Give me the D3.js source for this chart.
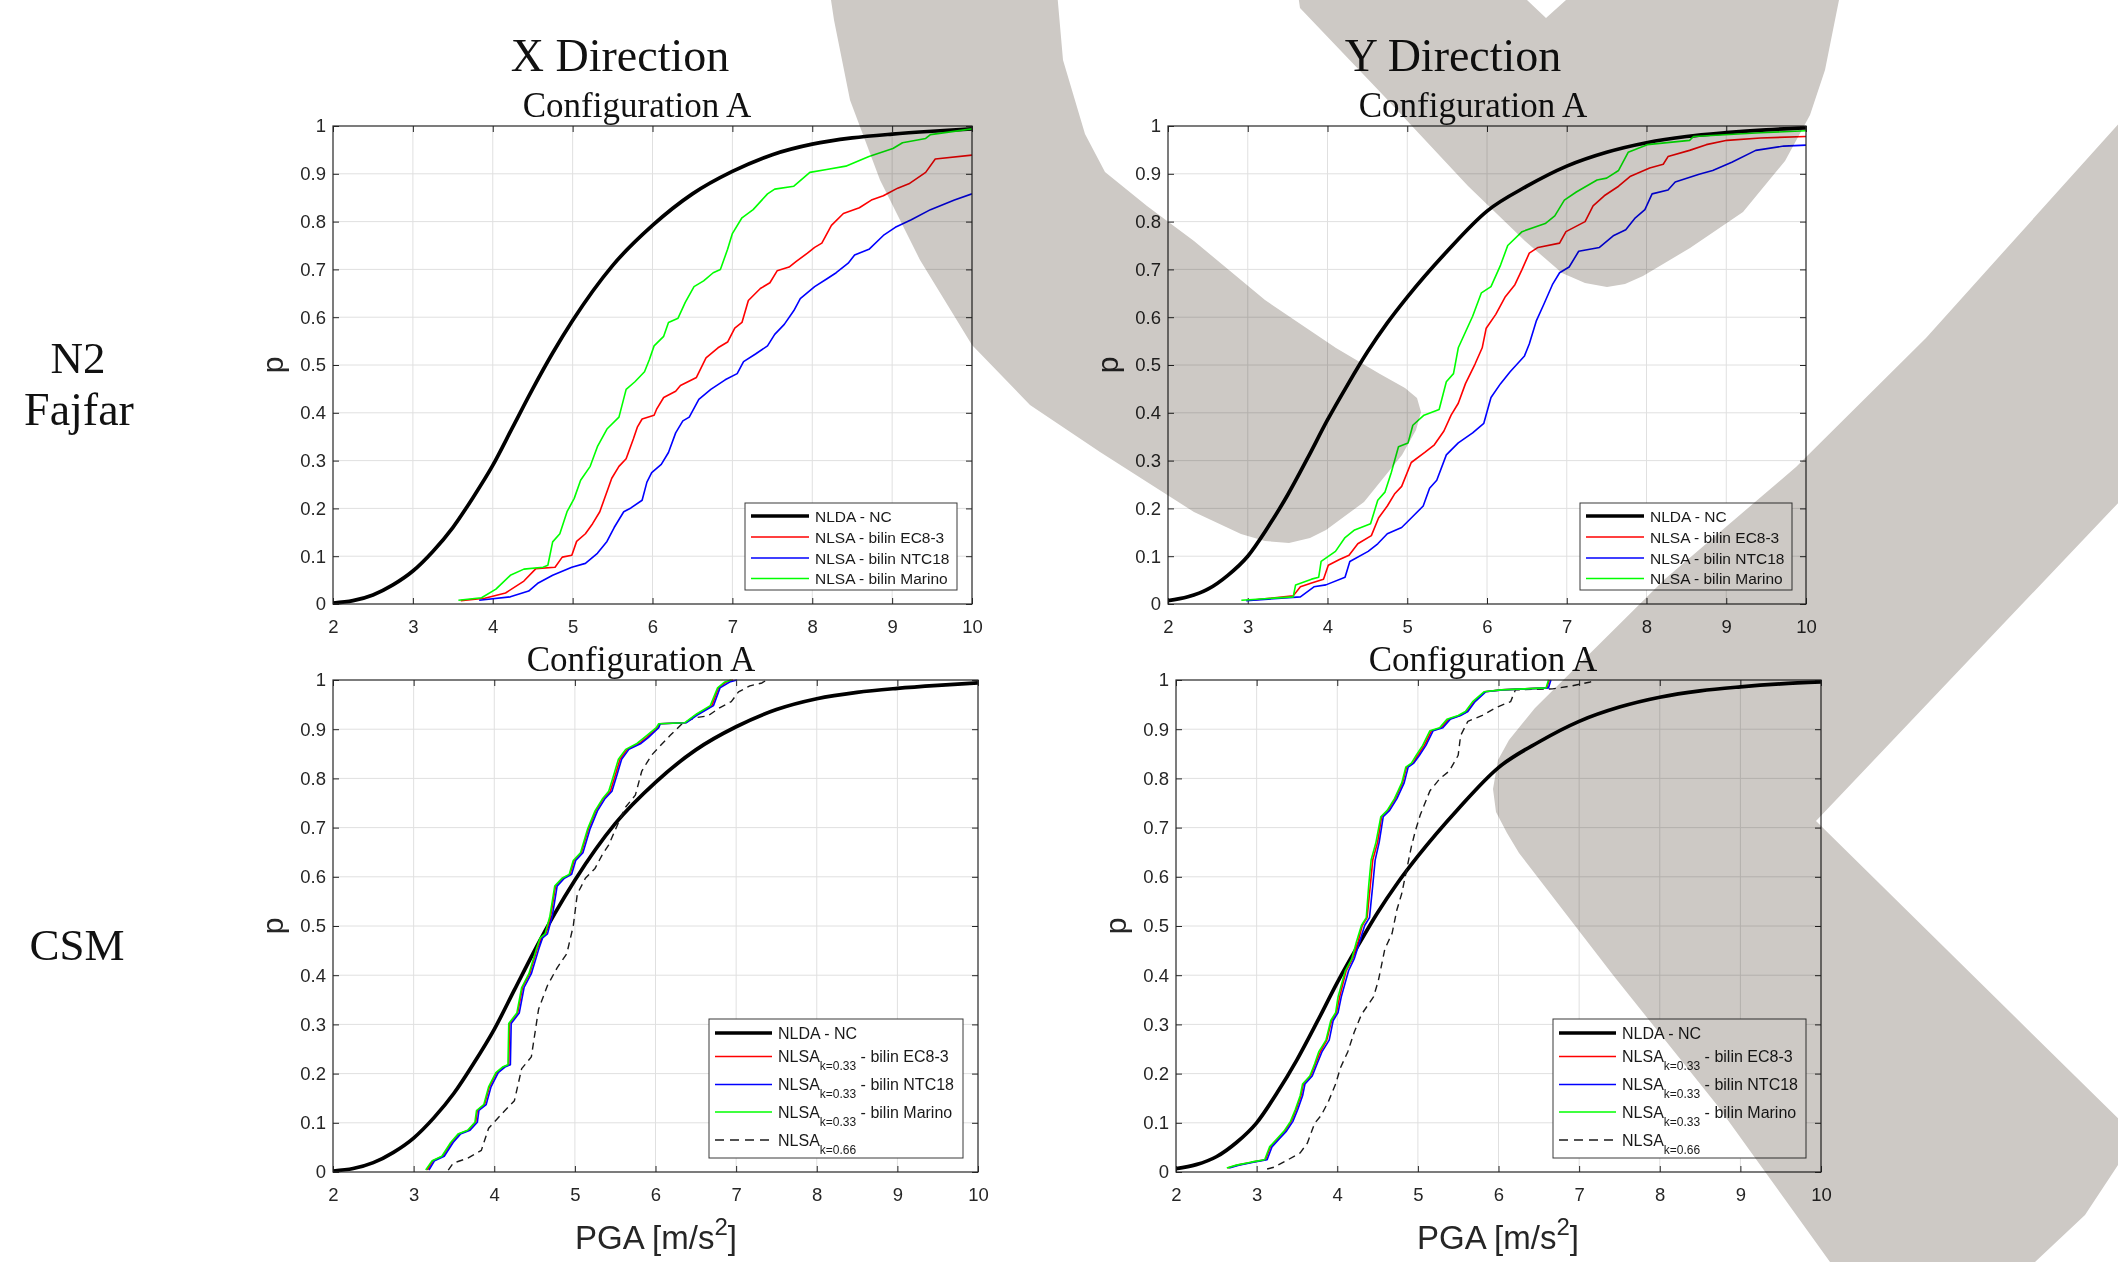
<!DOCTYPE html>
<html>
<head>
<meta charset="utf-8">
<script src="https://cdn.jsdelivr.net/npm/d3@7"></script>
<style>
  body { margin: 0; background: #fff; }
  svg { display: block; }
</style>
</head>
<body>
<div id="chart"></div>
<script>
const W = 2118, H = 1262;

// --- values: [PGA, p] ---
const xTicks = [2, 3, 4, 5, 6, 7, 8, 9, 10];
const yTicks = [0, 0.1, 0.2, 0.3, 0.4, 0.5, 0.6, 0.7, 0.8, 0.9, 1];
const yTickLabels = ["0", "0.1", "0.2", "0.3", "0.4", "0.5", "0.6", "0.7", "0.8", "0.9", "1"];

const nldaX = [[2,0.002],[2.25,0.007],[2.5,0.019],[2.75,0.040],[3,0.069],[3.25,0.110],[3.5,0.160],[3.75,0.222],
  [4,0.290],[4.25,0.370],[4.5,0.450],[4.75,0.525],[5,0.593],[5.5,0.708],[6,0.792],[6.5,0.858],[7,0.905],
  [7.5,0.940],[8,0.962],[8.5,0.975],[9,0.983],[9.5,0.989],[10,0.994]];

const nldaY = [[2,0.007],[2.25,0.015],[2.5,0.031],[2.75,0.060],[3,0.100],[3.25,0.160],[3.5,0.228],[3.75,0.305],
  [4,0.385],[4.25,0.458],[4.5,0.527],[4.75,0.588],[5,0.642],[5.5,0.738],[6,0.822],[6.5,0.874],[7,0.916],
  [7.5,0.945],[8,0.965],[8.5,0.978],[9,0.986],[9.5,0.992],[10,0.996]];

// N2 Fajfar, X direction
const n2xEC8 = [[3.60,0.007],[3.9,0.012],[4.16,0.023],[4.39,0.048],[4.54,0.074],[4.78,0.077],[4.87,0.098],[4.99,0.102],
  [5.05,0.131],[5.16,0.147],[5.25,0.168],[5.34,0.193],[5.49,0.263],[5.58,0.288],[5.67,0.304],[5.76,0.345],[5.81,0.37],
  [5.87,0.387],[6.02,0.395],[6.05,0.407],[6.14,0.432],[6.29,0.445],[6.35,0.457],[6.55,0.474],[6.67,0.515],[6.82,0.536],
  [6.94,0.548],[7.03,0.577],[7.12,0.589],[7.20,0.635],[7.35,0.66],[7.47,0.672],[7.56,0.697],[7.71,0.705],[7.80,0.717],
  [7.94,0.734],[8.03,0.746],[8.12,0.755],[8.24,0.792],[8.39,0.817],[8.59,0.829],[8.74,0.845],[8.89,0.854],[9.07,0.87],
  [9.21,0.879],[9.42,0.903],[9.54,0.931],[10,0.939]];
const n2xNTC = [[3.83,0.008],[4.22,0.015],[4.45,0.027],[4.57,0.044],[4.75,0.06],[4.99,0.077],[5.16,0.085],[5.31,0.106],
  [5.43,0.131],[5.52,0.16],[5.64,0.193],[5.73,0.201],[5.87,0.217],[5.93,0.255],[5.99,0.275],[6.11,0.292],[6.20,0.317],
  [6.29,0.358],[6.38,0.383],[6.46,0.391],[6.58,0.428],[6.73,0.449],[6.91,0.469],[7.06,0.482],[7.14,0.507],[7.29,0.523],
  [7.44,0.54],[7.53,0.564],[7.65,0.585],[7.77,0.614],[7.85,0.639],[8.03,0.664],[8.18,0.68],[8.30,0.693],[8.45,0.713],
  [8.53,0.73],[8.71,0.742],[8.89,0.771],[9.04,0.788],[9.24,0.804],[9.48,0.825],[9.78,0.845],[10,0.858]];
const n2xMarino = [[3.57,0.008],[3.86,0.013],[4.04,0.031],[4.22,0.06],[4.39,0.073],[4.63,0.077],[4.69,0.081],[4.75,0.13],
  [4.84,0.147],[4.93,0.193],[5.02,0.221],[5.10,0.259],[5.22,0.288],[5.31,0.329],[5.43,0.366],[5.58,0.391],[5.67,0.449],
  [5.78,0.465],[5.90,0.486],[5.96,0.511],[6.02,0.54],[6.14,0.56],[6.20,0.589],[6.32,0.598],[6.41,0.631],[6.52,0.664],
  [6.64,0.676],[6.76,0.693],[6.85,0.70],[6.94,0.742],[7.00,0.775],[7.12,0.808],[7.26,0.825],[7.44,0.858],[7.53,0.868],
  [7.77,0.874],[7.97,0.903],[8.18,0.909],[8.42,0.916],[8.71,0.936],[9.01,0.953],[9.13,0.965],[9.42,0.974],[9.48,0.982],
  [10,0.994]];

// N2 Fajfar, Y direction
const n2yEC8 = [[3.04,0.008],[3.57,0.017],[3.66,0.036],[3.80,0.044],[3.95,0.052],[4.01,0.081],[4.15,0.093],[4.27,0.102],
  [4.38,0.126],[4.55,0.143],[4.64,0.18],[4.75,0.205],[4.84,0.23],[4.93,0.246],[5.05,0.296],[5.22,0.317],[5.34,0.333],
  [5.46,0.362],[5.55,0.395],[5.64,0.42],[5.73,0.461],[5.85,0.502],[5.94,0.536],[5.99,0.577],[6.11,0.606],[6.23,0.643],
  [6.35,0.668],[6.44,0.70],[6.53,0.734],[6.64,0.746],[6.91,0.755],[6.99,0.779],[7.23,0.80],[7.33,0.833],[7.47,0.854],
  [7.65,0.874],[7.80,0.895],[8.04,0.912],[8.21,0.92],[8.27,0.936],[8.54,0.949],[8.75,0.961],[9.01,0.97],[9.43,0.975],
  [10,0.978]];
const n2yNTC = [[2.98,0.007],[3.66,0.015],[3.83,0.036],[3.98,0.04],[4.22,0.056],[4.28,0.089],[4.51,0.11],[4.63,0.126],
  [4.75,0.147],[4.93,0.16],[5.05,0.18],[5.20,0.205],[5.28,0.242],[5.37,0.259],[5.49,0.312],[5.64,0.337],[5.82,0.358],
  [5.96,0.378],[6.05,0.432],[6.17,0.461],[6.29,0.486],[6.47,0.519],[6.53,0.544],[6.62,0.593],[6.71,0.626],[6.82,0.668],
  [6.91,0.693],[7.03,0.705],[7.15,0.738],[7.41,0.746],[7.59,0.771],[7.74,0.783],[7.86,0.808],[7.98,0.825],[8.07,0.858],
  [8.27,0.866],[8.36,0.883],[8.66,0.899],[8.83,0.907],[9.07,0.924],[9.37,0.949],[9.72,0.958],[10,0.96]];
const n2yMarino = [[2.92,0.008],[3.57,0.015],[3.60,0.04],[3.80,0.052],[3.89,0.056],[3.92,0.089],[4.10,0.11],[4.22,0.139],
  [4.34,0.155],[4.54,0.168],[4.63,0.217],[4.72,0.234],[4.80,0.275],[4.89,0.329],[5.01,0.337],[5.07,0.374],[5.21,0.395],
  [5.40,0.407],[5.49,0.465],[5.58,0.482],[5.64,0.536],[5.73,0.569],[5.82,0.602],[5.93,0.651],[6.05,0.664],[6.17,0.709],
  [6.26,0.75],[6.44,0.779],[6.73,0.796],[6.85,0.812],[6.97,0.845],[7.12,0.862],[7.38,0.887],[7.50,0.891],[7.65,0.907],
  [7.77,0.945],[8.01,0.961],[8.54,0.97],[8.59,0.978],[9.43,0.986],[10,0.99]];

// CSM, X direction
const csmxEC8 = [[3.17,0.004],[3.24,0.023],[3.36,0.032],[3.47,0.06],[3.56,0.077],[3.68,0.085],[3.77,0.101],[3.79,0.125],
  [3.88,0.137],[3.94,0.173],[4.03,0.202],[4.12,0.214],[4.18,0.218],[4.19,0.302],[4.29,0.323],[4.35,0.375],[4.44,0.403],
  [4.53,0.452],[4.58,0.476],[4.64,0.484],[4.70,0.52],[4.76,0.581],[4.85,0.597],[4.94,0.605],[4.99,0.633],[5.08,0.649],
  [5.17,0.698],[5.26,0.734],[5.35,0.758],[5.44,0.774],[5.50,0.806],[5.56,0.839],[5.65,0.859],[5.80,0.871],[5.89,0.883],
  [6.03,0.903],[6.05,0.911],[6.37,0.913],[6.52,0.931],[6.70,0.948],[6.78,0.984],[6.88,0.996],[6.96,1.0]];
const csmxNTC = [[3.19,0.004],[3.26,0.023],[3.38,0.032],[3.49,0.06],[3.58,0.077],[3.70,0.085],[3.79,0.101],[3.81,0.125],
  [3.90,0.137],[3.96,0.173],[4.05,0.202],[4.14,0.214],[4.20,0.218],[4.21,0.302],[4.31,0.323],[4.37,0.375],[4.46,0.403],
  [4.55,0.452],[4.60,0.476],[4.66,0.484],[4.72,0.52],[4.78,0.581],[4.87,0.597],[4.96,0.605],[5.01,0.633],[5.10,0.649],
  [5.19,0.698],[5.28,0.734],[5.37,0.758],[5.46,0.774],[5.52,0.806],[5.58,0.839],[5.67,0.859],[5.82,0.871],[5.91,0.883],
  [6.04,0.903],[6.06,0.911],[6.38,0.913],[6.54,0.931],[6.72,0.948],[6.80,0.984],[6.92,0.996],[7.01,1.0]];
const csmxMarino = [[3.15,0.004],[3.23,0.023],[3.35,0.032],[3.46,0.06],[3.55,0.077],[3.67,0.085],[3.76,0.101],[3.78,0.125],
  [3.87,0.137],[3.93,0.173],[4.02,0.202],[4.11,0.214],[4.17,0.218],[4.18,0.302],[4.28,0.323],[4.34,0.375],[4.43,0.403],
  [4.52,0.452],[4.57,0.476],[4.63,0.484],[4.69,0.52],[4.75,0.581],[4.84,0.597],[4.93,0.605],[4.98,0.633],[5.07,0.649],
  [5.16,0.698],[5.25,0.734],[5.34,0.758],[5.42,0.774],[5.48,0.806],[5.54,0.839],[5.63,0.859],[5.77,0.871],[5.86,0.883],
  [6.01,0.903],[6.04,0.911],[6.36,0.913],[6.51,0.931],[6.68,0.948],[6.77,0.984],[6.86,0.996],[6.94,1.0]];
const csmxK066 = [[3.43,0.004],[3.49,0.018],[3.67,0.028],[3.84,0.044],[3.93,0.089],[4.11,0.121],[4.25,0.145],[4.34,0.21],
  [4.46,0.234],[4.55,0.331],[4.66,0.379],[4.78,0.415],[4.90,0.444],[4.98,0.50],[5.03,0.565],[5.13,0.597],[5.25,0.617],
  [5.34,0.645],[5.42,0.665],[5.54,0.71],[5.63,0.742],[5.75,0.766],[5.83,0.815],[5.95,0.847],[6.04,0.863],[6.18,0.887],
  [6.33,0.911],[6.48,0.923],[6.65,0.927],[6.80,0.944],[6.94,0.956],[7.03,0.976],[7.17,0.988],[7.32,0.994],[7.38,1.0]];

// CSM, Y direction
const csmyEC8 = [[2.64,0.008],[2.76,0.014],[2.94,0.02],[3.11,0.025],[3.17,0.051],[3.26,0.067],[3.35,0.083],[3.43,0.103],
  [3.49,0.127],[3.55,0.155],[3.58,0.179],[3.67,0.195],[3.73,0.22],[3.79,0.244],[3.87,0.268],[3.93,0.308],[3.99,0.324],
  [4.03,0.356],[4.11,0.409],[4.19,0.433],[4.26,0.469],[4.31,0.501],[4.37,0.517],[4.41,0.582],[4.44,0.634],[4.50,0.67],
  [4.55,0.722],[4.63,0.735],[4.72,0.759],[4.81,0.791],[4.86,0.823],[4.94,0.831],[5.00,0.847],[5.08,0.867],[5.17,0.897],
  [5.29,0.903],[5.38,0.92],[5.52,0.928],[5.61,0.936],[5.70,0.956],[5.83,0.976],[6.04,0.98],[6.33,0.982],[6.60,0.984],
  [6.63,1.0]];
const csmyNTC = [[2.66,0.008],[2.78,0.014],[2.96,0.02],[3.13,0.025],[3.19,0.051],[3.28,0.067],[3.37,0.083],[3.45,0.103],
  [3.51,0.127],[3.57,0.155],[3.60,0.179],[3.69,0.195],[3.75,0.22],[3.81,0.244],[3.90,0.268],[3.95,0.308],[4.01,0.324],
  [4.05,0.356],[4.14,0.409],[4.21,0.433],[4.28,0.469],[4.34,0.501],[4.40,0.517],[4.44,0.582],[4.47,0.634],[4.52,0.67],
  [4.57,0.722],[4.65,0.735],[4.74,0.759],[4.83,0.791],[4.88,0.823],[4.95,0.831],[5.02,0.847],[5.10,0.867],[5.19,0.897],
  [5.31,0.903],[5.40,0.92],[5.53,0.928],[5.62,0.936],[5.71,0.956],[5.84,0.976],[6.05,0.98],[6.34,0.982],[6.62,0.984],
  [6.65,1.0]];
const csmyMarino = [[2.63,0.008],[2.75,0.014],[2.93,0.02],[3.10,0.025],[3.16,0.051],[3.25,0.067],[3.34,0.083],[3.42,0.103],
  [3.48,0.127],[3.54,0.155],[3.57,0.179],[3.66,0.195],[3.72,0.22],[3.77,0.244],[3.86,0.268],[3.92,0.308],[3.98,0.324],
  [4.01,0.356],[4.10,0.409],[4.18,0.433],[4.24,0.469],[4.30,0.501],[4.36,0.517],[4.39,0.582],[4.42,0.634],[4.48,0.67],
  [4.54,0.722],[4.62,0.735],[4.71,0.759],[4.80,0.791],[4.85,0.823],[4.92,0.831],[4.98,0.847],[5.06,0.867],[5.15,0.897],
  [5.27,0.903],[5.36,0.92],[5.50,0.928],[5.59,0.936],[5.68,0.956],[5.82,0.976],[6.03,0.98],[6.32,0.982],[6.59,0.984],
  [6.62,1.0]];
const csmyK066 = [[3.13,0.006],[3.22,0.01],[3.39,0.025],[3.54,0.039],[3.63,0.059],[3.72,0.099],[3.80,0.115],[3.89,0.143],
  [3.98,0.179],[4.04,0.212],[4.13,0.244],[4.21,0.284],[4.30,0.32],[4.45,0.356],[4.51,0.389],[4.59,0.453],[4.68,0.485],
  [4.74,0.533],[4.80,0.566],[4.86,0.614],[4.92,0.662],[4.97,0.694],[5.03,0.726],[5.15,0.775],[5.27,0.799],[5.39,0.815],
  [5.50,0.847],[5.53,0.887],[5.62,0.916],[5.80,0.928],[5.97,0.944],[6.15,0.956],[6.21,0.98],[6.67,0.982],[6.91,0.988],
  [7.14,0.996],[7.20,1.0]];

const n2Legend = ["NLDA - NC", "NLSA - bilin EC8-3", "NLSA - bilin NTC18", "NLSA - bilin Marino"];
const csmLegendSub = ["", "k=0.33", "k=0.33", "k=0.33", "k=0.66"];
const csmLegendRest = ["NLDA - NC", " - bilin EC8-3", " - bilin NTC18", " - bilin Marino", ""];

// --- styles ---
const AX = "#262626";
const GRID = "#e0e0e0";
const SERIF = "'Liberation Serif', 'DejaVu Serif', serif";
const SANS = "'Liberation Sans', Arial, sans-serif";
const styles = {
  nlda:   { color: "#000000", width: 3.7, dash: null },
  ec8:    { color: "#ff0000", width: 1.6, dash: null },
  ntc:    { color: "#0000ff", width: 1.6, dash: null },
  marino: { color: "#00ff00", width: 1.6, dash: null },
  k066:   { color: "#1a1a1a", width: 1.4, dash: "7,5" }
};

const panels = [
  { left: 333, right: 972, top: 126, bottom: 604, title: [637, 117], xlabel: null,
    series: [["nlda", nldaX], ["ec8", n2xEC8], ["ntc", n2xNTC], ["marino", n2xMarino]],
    legend: { type: "n2", x: 745, y: 503, w: 212, h: 87 } },
  { left: 1168, right: 1806, top: 126, bottom: 604, title: [1473, 117], xlabel: null,
    series: [["nlda", nldaY], ["ec8", n2yEC8], ["ntc", n2yNTC], ["marino", n2yMarino]],
    legend: { type: "n2", x: 1580, y: 503, w: 212, h: 87 } },
  { left: 333, right: 978, top: 680, bottom: 1172, title: [641, 671], xlabel: [656, 1249],
    series: [["nlda", nldaX], ["k066", csmxK066], ["ec8", csmxEC8], ["ntc", csmxNTC], ["marino", csmxMarino]],
    legend: { type: "csm", x: 709, y: 1019, w: 254, h: 139 } },
  { left: 1176, right: 1821, top: 680, bottom: 1172, title: [1483, 671], xlabel: [1498, 1249],
    series: [["nlda", nldaY], ["k066", csmyK066], ["ec8", csmyEC8], ["ntc", csmyNTC], ["marino", csmyMarino]],
    legend: { type: "csm", x: 1553, y: 1019, w: 253, h: 139 } }
];

const svg = d3.select("#chart").append("svg")
  .attr("width", W)
  .attr("height", H)
  .style("background", "#fff");

// --- row and column headings ---
const headings = [
  ["X Direction", 620, 71, 46], ["Y Direction", 1453, 71, 46],
  ["N2", 78, 373, 45], ["Fajfar", 79, 425, 46], ["CSM", 77, 960, 45]
];
svg.selectAll(".heading")
  .data(headings)
  .enter()
  .append("text")
  .attr("class", "heading")
  .attr("x", d => d[1])
  .attr("y", d => d[2])
  .attr("text-anchor", "middle")
  .style("font", d => `${d[3]}px ${SERIF}`)
  .style("fill", "#111")
  .text(d => d[0]);

panels.forEach((p, i) => {
  const x = d3.scaleLinear().domain([2, 10]).range([p.left, p.right]);
  const y = d3.scaleLinear().domain([0, 1]).range([p.bottom, p.top]);
  const g = svg.append("g");

  // grid
  g.selectAll(".gx").data(xTicks.slice(1, -1)).enter().append("line")
    .attr("x1", d => x(d)).attr("x2", d => x(d))
    .attr("y1", p.top).attr("y2", p.bottom)
    .style("stroke", GRID).style("stroke-width", 1);
  g.selectAll(".gy").data(yTicks.slice(1, -1)).enter().append("line")
    .attr("x1", p.left).attr("x2", p.right)
    .attr("y1", d => y(d)).attr("y2", d => y(d))
    .style("stroke", GRID).style("stroke-width", 1);

  // axes, ticks pointing inwards on all four sides
  const styleAxis = sel => {
    sel.select(".domain").remove();
    sel.selectAll(".tick line").style("stroke", AX);
    sel.selectAll(".tick text").style("font", `18.5px ${SANS}`).style("fill", AX);
  };
  g.append("g").attr("transform", `translate(0,${p.bottom})`)
    .call(d3.axisBottom(x).tickValues(xTicks).tickSizeInner(-6).tickSizeOuter(0).tickPadding(16))
    .call(styleAxis);
  g.append("g").attr("transform", `translate(0,${p.top})`)
    .call(d3.axisTop(x).tickValues(xTicks).tickSizeInner(-6).tickSizeOuter(0).tickFormat(""))
    .call(styleAxis);
  g.append("g").attr("transform", `translate(${p.left},0)`)
    .call(d3.axisLeft(y).tickValues(yTicks).tickSizeInner(-6).tickSizeOuter(0).tickPadding(7)
      .tickFormat((d, k) => yTickLabels[k]))
    .call(styleAxis);
  g.append("g").attr("transform", `translate(${p.right},0)`)
    .call(d3.axisRight(y).tickValues(yTicks).tickSizeInner(-6).tickSizeOuter(0).tickFormat(""))
    .call(styleAxis);

  // clip + curves
  const clipId = "clip" + i;
  svg.append("defs").append("clipPath").attr("id", clipId)
    .append("rect").attr("x", p.left).attr("y", p.top - 2)
    .attr("width", p.right - p.left).attr("height", p.bottom - p.top + 4);

  const lineSmooth = d3.line().x(d => x(d[0])).y(d => y(d[1])).curve(d3.curveMonotoneX);
  const lineStep = d3.line().x(d => x(d[0])).y(d => y(d[1]));

  g.append("g").attr("clip-path", `url(#${clipId})`)
    .selectAll("path")
    .data(p.series)
    .enter()
    .append("path")
    .attr("d", d => d[0] === "nlda" ? lineSmooth(d[1]) : lineStep(d[1]))
    .style("fill", "none")
    .style("stroke", d => styles[d[0]].color)
    .style("stroke-width", d => styles[d[0]].width)
    .style("stroke-dasharray", d => styles[d[0]].dash)
    .style("stroke-linejoin", "round");

  // box
  g.append("rect")
    .attr("x", p.left).attr("y", p.top)
    .attr("width", p.right - p.left).attr("height", p.bottom - p.top)
    .style("fill", "none").style("stroke", AX).style("stroke-width", 1.2);

  // titles and labels
  g.append("text")
    .attr("x", p.title[0]).attr("y", p.title[1])
    .attr("text-anchor", "middle")
    .style("font", `35px ${SERIF}`).style("fill", "#111")
    .text("Configuration A");

  g.append("text")
    .attr("transform", `translate(${p.left - 50},${(p.top + p.bottom) / 2}) rotate(-90)`)
    .attr("text-anchor", "middle")
    .style("font", `30px ${SANS}`).style("fill", AX)
    .text("p");

  if (p.xlabel) {
    const t = g.append("text")
      .attr("x", p.xlabel[0]).attr("y", p.xlabel[1])
      .attr("text-anchor", "middle")
      .style("font", `33px ${SANS}`).style("fill", AX);
    t.append("tspan").text("PGA [m/s");
    t.append("tspan").attr("dy", -14).style("font-size", "24px").text("2");
    t.append("tspan").attr("dy", 14).text("]");
  }

  // legend
  const L = p.legend;
  const lg = g.append("g");
  lg.append("rect")
    .attr("x", L.x).attr("y", L.y).attr("width", L.w).attr("height", L.h)
    .style("fill", "#fff").style("stroke", "#3a3a3a").style("stroke-width", 1);

  const keys = L.type === "n2" ? ["nlda", "ec8", "ntc", "marino"] : ["nlda", "ec8", "ntc", "marino", "k066"];
  const rowY = L.type === "n2" ? [13, 34, 55, 75.5] : [14, 37.5, 65.5, 93, 121];
  const lineLen = L.type === "n2" ? 58 : 57;

  keys.forEach((k, j) => {
    const ry = L.y + rowY[j];
    lg.append("line")
      .attr("x1", L.x + 6).attr("x2", L.x + 6 + lineLen)
      .attr("y1", ry).attr("y2", ry)
      .style("stroke", styles[k].color)
      .style("stroke-width", styles[k].width)
      .style("stroke-dasharray", k === "k066" ? "9,6" : null);
    const t = lg.append("text")
      .attr("x", L.x + 6 + lineLen + 6).attr("y", ry + 5.5)
      .style("font", `${L.type === "n2" ? 15.5 : 16}px ${SANS}`).style("fill", "#1a1a1a");
    if (L.type === "n2") {
      t.text(n2Legend[j]);
    } else if (j === 0) {
      t.text(csmLegendRest[j]);
    } else {
      t.append("tspan").text("NLSA");
      t.append("tspan").attr("dy", 8).style("font-size", "12px").text(csmLegendSub[j]);
      t.append("tspan").attr("dy", -8).text(csmLegendRest[j]);
    }
  });
});

// --- grey watermark laid over the figure ---
const wmArm = [[828,-20],[834,20],[850,100],[880,180],[920,260],[972,345],[1030,405],[1100,452],[1194,512],[1241,534],
  [1265,541],[1289,543],[1310,538],[1326,530],[1364,502],[1402,455],[1416,430],[1421,412],[1417,398],[1405,388],
  [1380,374],[1336,348],[1265,300],[1194,241],[1147,206],[1105,172],[1085,134],[1063,60],[1056,-20]];
const wmLobe = [[1296,-20],[1300,8],[1383,95],[1468,186],[1525,241],[1562,273],[1585,283],[1607,287],[1625,284],
  [1643,276],[1690,248],[1743,212],[1785,161],[1810,115],[1825,70],[1843,-20],[1566,-20],[1566,0],[1546,18],
  [1527,0],[1527,-20]];
const wmChevron = [[2140,100],[1926,338],[1796,467],[1665,579],[1535,708],[1509,740],[1498,760],[1493,789],[1496,812],
  [1507,833],[1519,853],[1613,975],[1717,1105],[1830,1262],[2035,1262],[2085,1215],[2118,1165],[2140,1140],
  [1816,821],[2140,480]];

const wmLine = d3.line().curve(d3.curveLinearClosed);
svg.append("g")
  .style("mix-blend-mode", "multiply")
  .selectAll("path")
  .data([wmArm, wmLobe, wmChevron])
  .enter()
  .append("path")
  .attr("d", d => wmLine(d))
  .style("fill", "#cdc9c5");
</script>
</body>
</html>
